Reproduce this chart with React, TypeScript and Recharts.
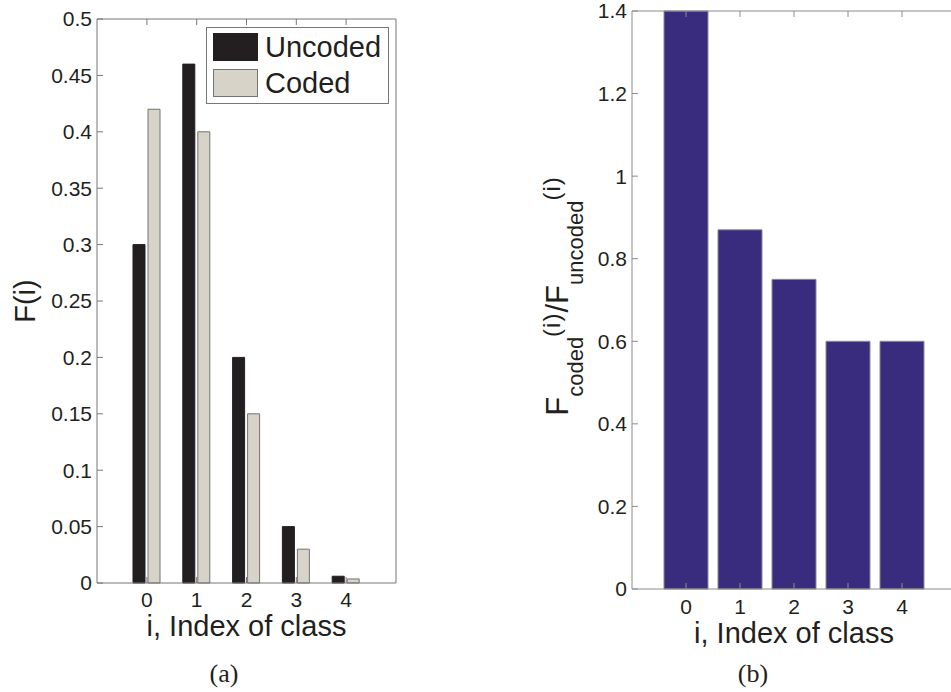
import React from 'react';
import { BarChart, Bar, XAxis, YAxis, Legend, Label } from 'recharts';

const CLASSES = ['0', '1', '2', '3', '4'];
const UNCODED = [0.3, 0.46, 0.2, 0.05, 0.006];
const CODED = [0.42, 0.4, 0.15, 0.03, 0.0036];
const RATIO = [1.4, 0.87, 0.75, 0.6, 0.6];
const LEFT_TICKS = [0, 0.05, 0.1, 0.15, 0.2, 0.25, 0.3, 0.35, 0.4, 0.45, 0.5];
const RIGHT_TICKS = [0, 0.2, 0.4, 0.6, 0.8, 1, 1.2, 1.4];
const SERIES = [
  { key: 'uncoded', name: 'Uncoded', fill: '#231f20', stroke: '#231f20' },
  { key: 'coded', name: 'Coded', fill: '#d8d3c8', stroke: '#747474' },
];

const leftData = CLASSES.map((c, i) => ({ i: c, uncoded: UNCODED[i], coded: CODED[i] }));
const rightData = CLASSES.map((c, i) => ({ i: c, ratio: RATIO[i] }));

const FONT = '"Liberation Sans", Arial, Helvetica, sans-serif';
const INK = '#231f20';
const AXIS1 = '#777777';
const AXIS2 = '#8c8c8c';

const tickStyle = { fontSize: 21, fill: INK, fontFamily: FONT };
const noTick = () => <g />;

function XLabel(props: any) {
  const vb = props.viewBox || { x: 0, y: 0, width: 0 };
  return (
    <text x={vb.x + vb.width / 2} y={vb.y + props.dyBase} textAnchor="middle" fontSize={29} fill={INK} fontFamily={FONT}>
      i, Index of class
    </text>
  );
}

function LeftYLabel(props: any) {
  const vb = props.viewBox || { y: 0, height: 0 };
  const cy = vb.y + vb.height / 2;
  const x = 35;
  return (
    <text x={x} y={cy} transform={`rotate(-90 ${x} ${cy})`} textAnchor="middle" fontSize={29} fill={INK} fontFamily={FONT}>
      F(i)
    </text>
  );
}

function RightYLabel(props: any) {
  const vb = props.viewBox || { y: 0, height: 0 };
  const cy = vb.y + vb.height / 2 - 4;
  const x = 88;
  return (
    <text x={x} y={cy} transform={`rotate(-90 ${x} ${cy})`} textAnchor="middle" fill={INK} fontFamily={FONT}>
      <tspan fontSize={31}>F</tspan>
      <tspan fontSize={22} dy={15}>coded</tspan>
      <tspan fontSize={24} dy={-23} letterSpacing={1}>(i)</tspan>
      <tspan fontSize={31} dy={8}>/F</tspan>
      <tspan fontSize={22} dy={15}>uncoded</tspan>
      <tspan fontSize={24} dy={-23} letterSpacing={1}>(i)</tspan>
    </text>
  );
}

function LegendBox() {
  return (
    <div
      style={{
        position: 'relative',
        width: 183,
        height: 77,
        boxSizing: 'border-box',
        border: `1px solid ${AXIS1}`,
        background: '#fff',
        fontFamily: FONT,
        color: INK,
      }}
    >
      {SERIES.map((s, idx) => (
        <React.Fragment key={s.key}>
          <div
            style={{
              position: 'absolute',
              left: 6,
              top: 5 + idx * 36,
              width: 45,
              height: 28,
              boxSizing: 'border-box',
              background: s.fill,
              border: `1px solid ${s.stroke}`,
            }}
          />
          <div
            style={{
              position: 'absolute',
              left: 58,
              top: 5 + idx * 36,
              height: 28,
              lineHeight: '28px',
              fontSize: 29,
              whiteSpace: 'nowrap',
            }}
          >
            {s.name}
          </div>
        </React.Fragment>
      ))}
    </div>
  );
}

export default function App() {
  return (
    <div style={{ position: 'absolute', left: 0, top: 0, width: 951, height: 692, overflow: 'hidden', background: '#fff' }}>
      <div style={{ position: 'absolute', left: 0, top: 0 }}>
        <BarChart
          width={480}
          height={692}
          data={leftData}
          margin={{ top: 18, right: 83, left: 0, bottom: 49 }}
          barSize={12}
          barGap={3}
        >
          <XAxis
            xAxisId="b"
            dataKey="i"
            type="category"
            padding={{ left: 25, right: 25 }}
            height={60}
            interval={0}
            tickSize={-6}
            tickMargin={15}
            tick={tickStyle}
            axisLine={{ stroke: AXIS1 }}
            tickLine={{ stroke: AXIS1 }}
          >
            <Label content={(p: any) => <XLabel {...p} dyBase={53} />} />
          </XAxis>
          <XAxis
            xAxisId="t"
            orientation="top"
            dataKey="i"
            type="category"
            padding={{ left: 25, right: 25 }}
            height={1}
            interval={0}
            tickSize={-6}
            tick={noTick}
            axisLine={{ stroke: AXIS1 }}
            tickLine={{ stroke: AXIS1 }}
          />
          <YAxis
            yAxisId="l"
            type="number"
            domain={[0, 0.5]}
            ticks={LEFT_TICKS}
            width={97}
            interval={0}
            tickSize={-6}
            tickMargin={11}
            tick={tickStyle}
            axisLine={{ stroke: AXIS1 }}
            tickLine={{ stroke: AXIS1 }}
          >
            <Label content={(p: any) => <LeftYLabel {...p} />} />
          </YAxis>
          <YAxis
            yAxisId="r"
            orientation="right"
            type="number"
            domain={[0, 0.5]}
            ticks={LEFT_TICKS}
            width={1}
            interval={0}
            tickSize={-6}
            tick={noTick}
            axisLine={{ stroke: AXIS1 }}
            tickLine={{ stroke: AXIS1 }}
          />
          <Legend
            layout="vertical"
            align="center"
            verticalAlign="middle"
            wrapperStyle={{ left: 206, top: 27, width: 183, height: 77 }}
            content={() => <LegendBox />}
          />
          {SERIES.map((s) => (
            <Bar
              key={s.key}
              xAxisId="b"
              yAxisId="l"
              dataKey={s.key}
              name={s.name}
              fill={s.fill}
              stroke={s.stroke}
              strokeWidth={1}
              isAnimationActive={false}
            />
          ))}
        </BarChart>
      </div>

      <div style={{ position: 'absolute', left: 480, top: 0 }}>
        <BarChart
          width={480}
          height={692}
          data={rightData}
          margin={{ top: 10, right: 3, left: 0, bottom: 43 }}
          barSize={44}
        >
          <XAxis
            xAxisId="b"
            dataKey="i"
            type="category"
            padding={{ left: 27, right: 27 }}
            height={60}
            interval={0}
            tickSize={-6}
            tickMargin={16}
            tick={tickStyle}
            axisLine={{ stroke: AXIS2 }}
            tickLine={{ stroke: AXIS2 }}
          >
            <Label content={(p: any) => <XLabel {...p} dyBase={54} />} />
          </XAxis>
          <XAxis
            xAxisId="t"
            orientation="top"
            dataKey="i"
            type="category"
            padding={{ left: 27, right: 27 }}
            height={1}
            interval={0}
            tickSize={-6}
            tick={noTick}
            axisLine={{ stroke: AXIS2 }}
            tickLine={{ stroke: AXIS2 }}
          />
          <YAxis
            yAxisId="l"
            type="number"
            domain={[0, 1.4]}
            ticks={RIGHT_TICKS}
            width={152}
            interval={0}
            tickSize={-6}
            tickMargin={11}
            tick={tickStyle}
            axisLine={{ stroke: AXIS2 }}
            tickLine={{ stroke: AXIS2 }}
          >
            <Label content={(p: any) => <RightYLabel {...p} />} />
          </YAxis>
          <YAxis
            yAxisId="r"
            orientation="right"
            type="number"
            domain={[0, 1.4]}
            ticks={RIGHT_TICKS}
            width={1}
            interval={0}
            tickSize={-6}
            tick={noTick}
            axisLine={{ stroke: AXIS2 }}
            tickLine={{ stroke: AXIS2 }}
          />
          <Bar
            xAxisId="b"
            yAxisId="l"
            dataKey="ratio"
            fill="#392b7e"
            stroke="#8c8c8c"
            strokeWidth={1}
            isAnimationActive={false}
          />
        </BarChart>
      </div>

      <svg width={951} height={692} style={{ position: 'absolute', left: 0, top: 0, pointerEvents: 'none' }}>
        <text x={224} y={682} textAnchor="middle" fontSize={26} fill={INK} fontFamily='"Liberation Serif", "DejaVu Serif", serif'>
          (a)
        </text>
        <text x={753} y={682} textAnchor="middle" fontSize={26} fill={INK} fontFamily='"Liberation Serif", "DejaVu Serif", serif'>
          (b)
        </text>
      </svg>
    </div>
  );
}
